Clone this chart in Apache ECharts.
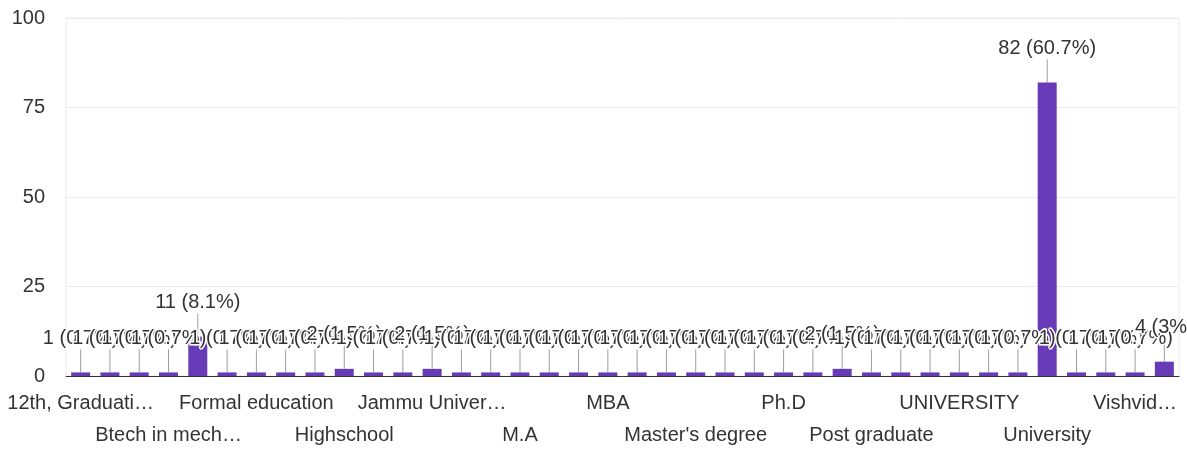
<!DOCTYPE html>
<html>
<head>
<meta charset="utf-8">
<script src="https://cdn.jsdelivr.net/npm/echarts@6/dist/echarts.min.js"></script>
<style>
  html, body { margin: 0; padding: 0; background: #fff; }
  #chart { width: 1187px; height: 450px; }
</style>
</head>
<body>
<div id="chart"></div>
<script>
// Responses, in the order the answers are listed on the axis
const categories = [
  "12th, Graduati…", "B.A", "B.Tech", "Btech in mech…", "College", "Degree",
  "Formal education", "Graduate", "Graduation", "Highschool", "IIT", "Intermediate",
  "Jammu Univer…", "K.U", "Kashmir University", "M.A", "M.Com", "M.Sc",
  "MBA", "MCA", "MSc", "Master's degree", "Masters", "NIT",
  "Ph.D", "PhD", "Post Graduation", "Post graduate", "Postgraduate", "School",
  "UNIVERSITY", "Undergraduate", "Universities", "University", "University degree", "Vidyalaya",
  "Vishvid…", "Vishwavidyalaya"
];
const counts = [
  1, 1, 1, 1, 11, 1,
  1, 1, 1, 2, 1, 1,
  2, 1, 1, 1, 1, 1,
  1, 1, 1, 1, 1, 1,
  1, 1, 2, 1, 1, 1,
  1, 1, 1, 82, 1, 1,
  1, 4
];
const yTicks = [0, 25, 50, 75, 100];

const total = counts.reduce((a, b) => a + b, 0);
const pct = v => String(Math.round(v / total * 1000) / 10);

const FONT = 'Arial, "Liberation Sans", sans-serif';
const chart = echarts.init(document.getElementById('chart'));

// Category labels are staggered over two rows: every third answer is named,
// alternating between the upper and the lower row.
const labelRow = (row, margin) => ({
  interval: (idx) => idx % 6 === row * 3,
  margin: margin,
  fontFamily: FONT,
  fontSize: 20,
  lineHeight: 32,
  color: '#333'
});

chart.setOption({
  animation: false,
  grid: {
    left: 66, right: 8, top: 18, bottom: 74,
    show: true, borderColor: '#ebebeb', borderWidth: 1,
    outerBoundsMode: 'none'
  },
  xAxis: [
    {
      type: 'category',
      data: categories,
      position: 'bottom',
      axisTick: { show: false },
      axisLine: { lineStyle: { color: '#333', width: 1 } },
      axisLabel: labelRow(0, 11)
    },
    {
      type: 'category',
      data: categories,
      position: 'bottom',
      offset: 0,
      axisTick: { show: false },
      axisLine: { show: false },
      splitLine: { show: false },
      axisLabel: labelRow(1, 43)
    }
  ],
  yAxis: {
    type: 'value',
    min: yTicks[0],
    max: yTicks[yTicks.length - 1],
    interval: yTicks[1] - yTicks[0],
    axisLine: { show: false },
    axisTick: { show: false },
    axisLabel: { margin: 21, fontFamily: FONT, fontSize: 20, color: '#333' },
    splitLine: { lineStyle: { color: '#ebebeb', width: 1 } }
  },
  series: [
    {
      // thin leader lines from each bar top to its value label
      type: 'custom',
      z: 1,
      silent: true,
      xAxisIndex: 0,
      data: counts.map((v, i) => [i, v]),
      renderItem: (params, api) => {
        const p = api.coord([api.value(0), api.value(1)]);
        return {
          type: 'line',
          shape: { x1: p[0], y1: p[1], x2: p[0], y2: p[1] - 23 },
          style: { stroke: '#9e9e9e', lineWidth: 1 }
        };
      }
    },
    {
      type: 'bar',
      z: 2,
      xAxisIndex: 0,
      data: counts,
      barWidth: 19,
      itemStyle: { color: '#673ab7' },
      label: {
        show: true,
        position: 'top',
        distance: 24,
        fontFamily: FONT,
        fontSize: 20,
        color: '#333',
        textBorderColor: '#fff',
        textBorderWidth: 3,
        formatter: p => p.value + ' (' + pct(p.value) + '%)'
      }
    }
  ]
});
</script>
</body>
</html>
